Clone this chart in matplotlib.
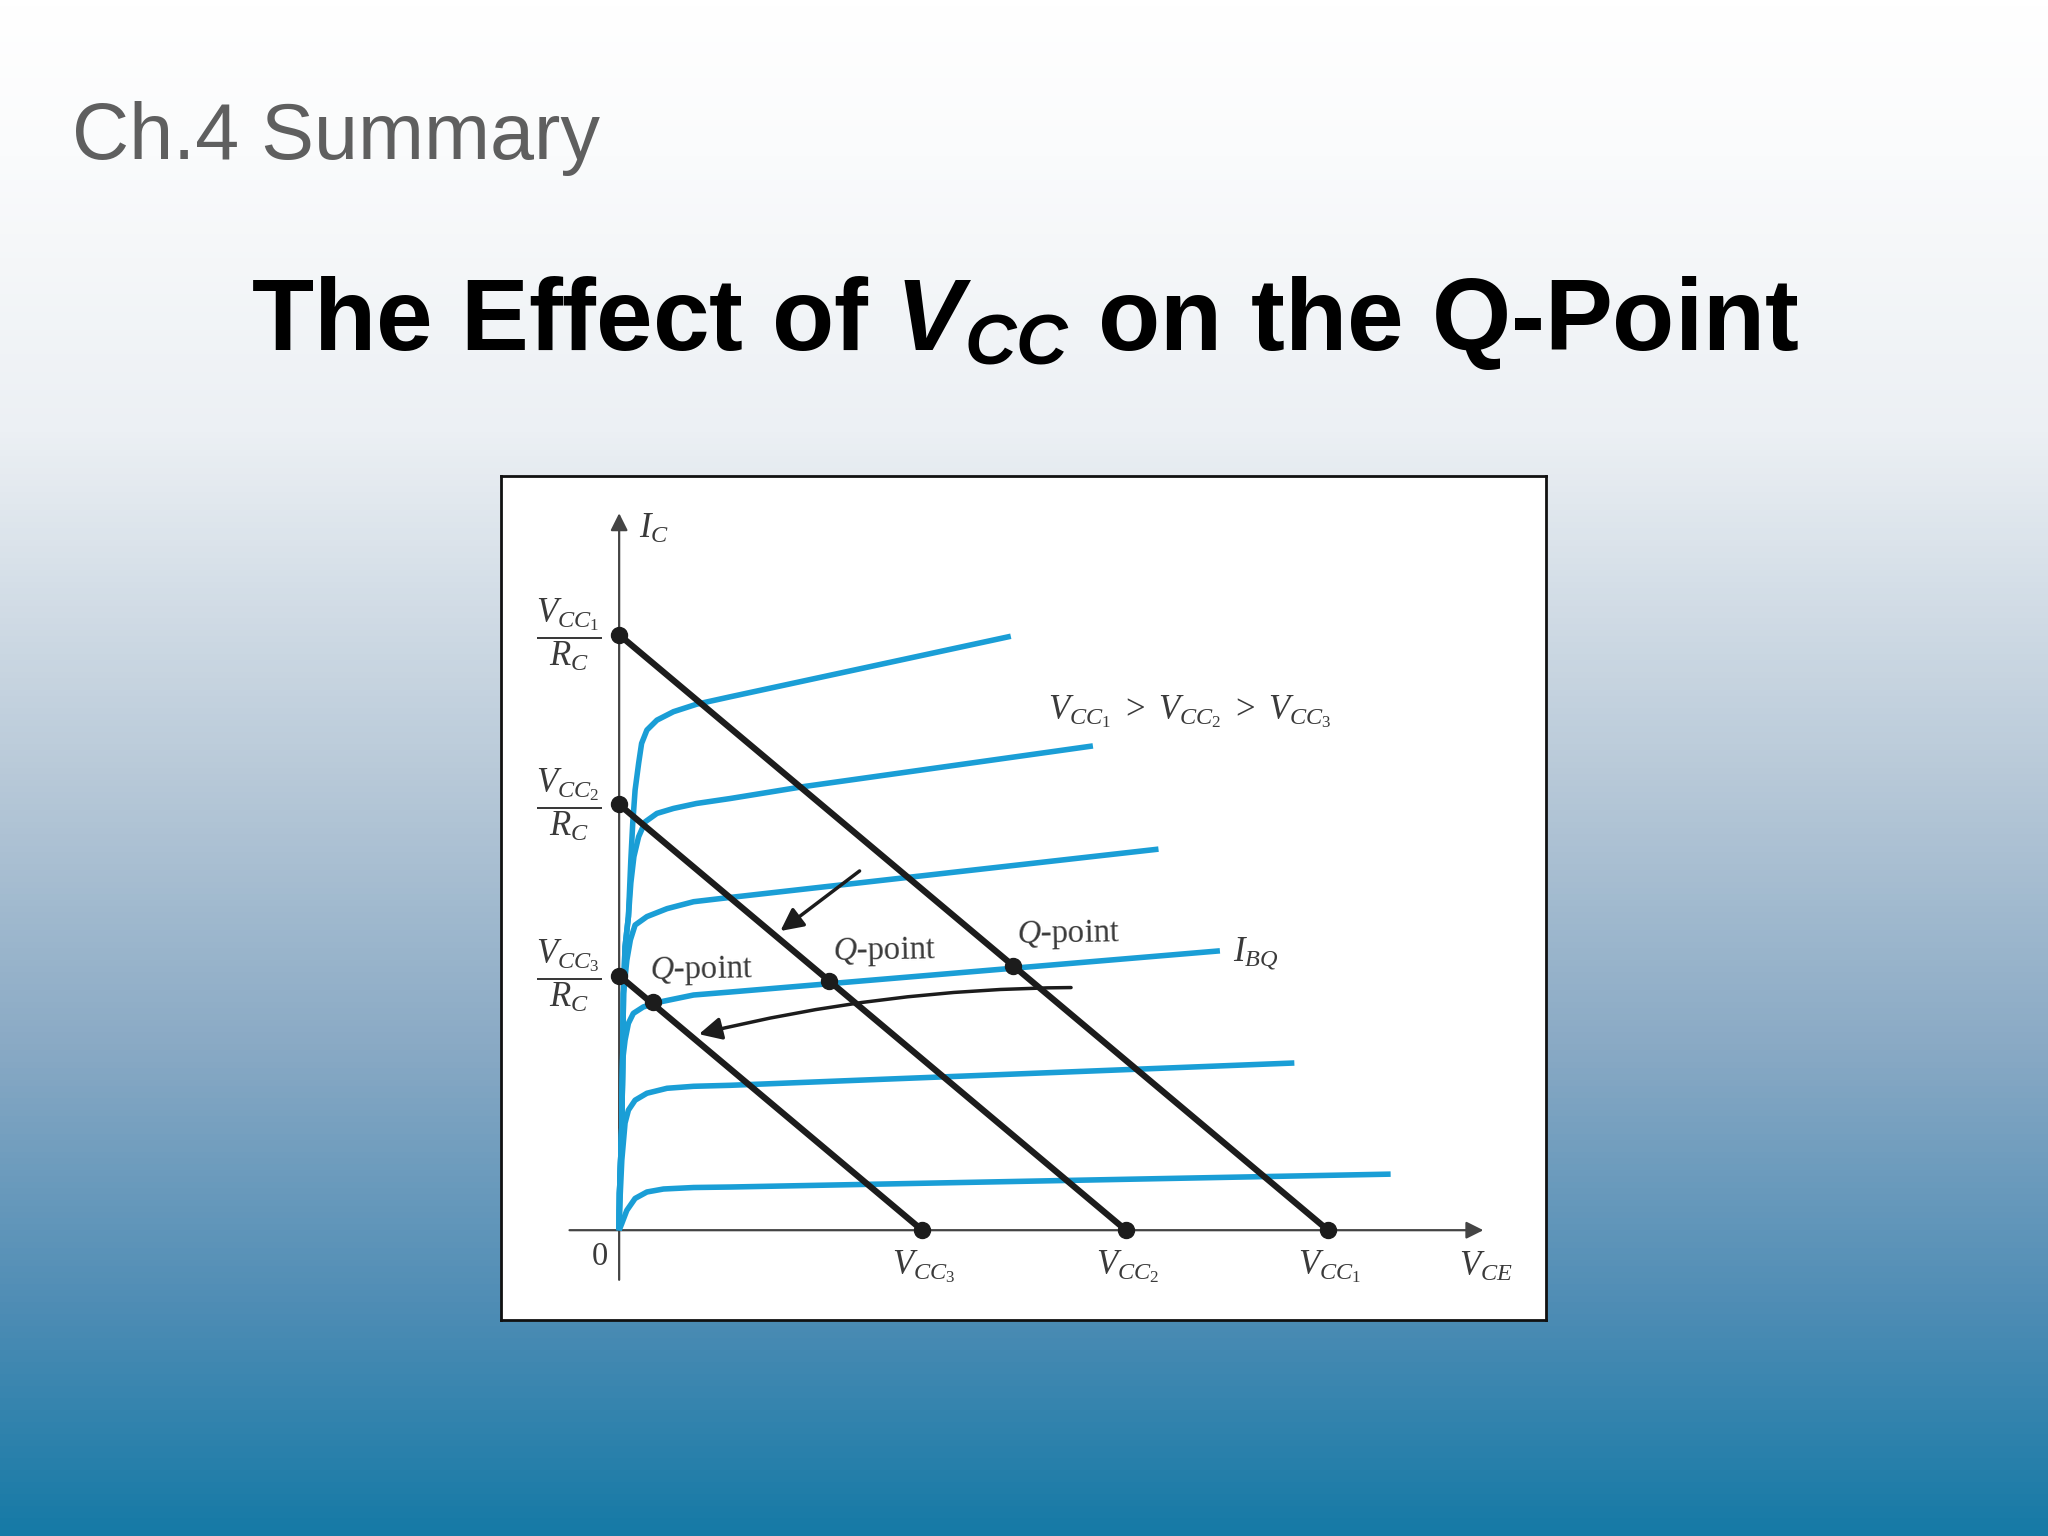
import numpy as np
import matplotlib
matplotlib.use("Agg")
import matplotlib.pyplot as plt
from matplotlib.colors import LinearSegmentedColormap
from matplotlib.patches import FancyArrowPatch

plt.rcParams["mathtext.fontset"] = "custom"
plt.rcParams["mathtext.rm"] = "Liberation Serif"
plt.rcParams["mathtext.it"] = "Liberation Serif:italic"
plt.rcParams["mathtext.bf"] = "Liberation Sans:bold"
plt.rcParams["mathtext.bfit"] = "Liberation Sans:bold:italic"

# supply voltages, load lines run from (VCC, 0) to (0, VCC / RC)
vcc_values = [12.0, 8.58, 5.13]
vcc_names = ["1", "2", "3"]

# collector curves, one per base current
curve_v = [
    [0, 0.006, 0.045, 0.06, 0.073, 0.10, 0.157, 0.198, 0.23, 0.27, 0.33, 0.38, 0.47, 0.64, 0.92, 1.31, 1.88, 6.63],
    [0, 0.006, 0.045, 0.06, 0.073, 0.10, 0.157, 0.198, 0.25, 0.33, 0.44, 0.64, 0.92, 1.31, 1.88, 3.12, 8.02],
    [0, 0.006, 0.045, 0.06, 0.073, 0.13, 0.19, 0.27, 0.47, 0.81, 1.26, 1.76, 9.13],
    [0, 0.006, 0.045, 0.06, 0.10, 0.157, 0.24, 0.41, 0.69, 1.26, 1.88, 10.17],
    [0, 0.006, 0.045, 0.10, 0.157, 0.27, 0.47, 0.81, 1.26, 1.88, 11.43],
    [0, 0.045, 0.13, 0.27, 0.47, 0.75, 1.26, 1.88, 13.06],
]
curve_i = [
    [0, 0.74, 2.08, 3.43, 4.77, 5.71, 6.32, 7.46, 8.2, 8.87, 9.41, 9.81, 10.08, 10.28, 10.45, 10.6, 10.75, 11.97],
    [0, 0.74, 2.08, 3.43, 4.77, 5.71, 6.32, 7.0, 7.53, 7.93, 8.23, 8.4, 8.5, 8.6, 8.7, 8.94, 9.76],
    [0, 0.74, 2.08, 3.43, 4.77, 5.44, 5.85, 6.15, 6.32, 6.48, 6.62, 6.69, 7.68],
    [0, 0.74, 2.08, 3.43, 3.83, 4.17, 4.37, 4.5, 4.6, 4.74, 4.8, 5.63],
    [0, 0.4, 1.41, 2.16, 2.42, 2.62, 2.76, 2.86, 2.9, 2.92, 3.37],
    [0, 0.135, 0.40, 0.64, 0.77, 0.83, 0.86, 0.87, 1.13],
]

q_v = [6.67, 3.56, 0.57]
q_i = [5.32, 5.03, 4.60]

# background gradient, fraction from top of the slide and colour
grad_pos = [0.0, 0.10, 0.28, 0.50, 0.68, 0.85, 1.0]
grad_col = ["#ffffff", "#fafbfc", "#ecf0f4", "#b9cad9", "#8aaac5", "#4f8db5", "#167aa6"]

blue = "#1a9ed6"
dark = "#1c1c1c"
label_col = "#3a3a3a"

fig = plt.figure(figsize=(20.48, 15.36), dpi=100)

bg = fig.add_axes([0, 0, 1, 1])
cmap = LinearSegmentedColormap.from_list("slide", list(zip(grad_pos, grad_col)))
bg.imshow(np.linspace(0, 1, 768).reshape(-1, 1), cmap=cmap, aspect="auto")
bg.axis("off")

fig.text(0.0352, 0.8965, "Ch.4 Summary", family="Liberation Sans", fontsize=57,
         color="#5f5f5f", va="baseline")
fig.text(0.5003, 0.772, r"The Effect of $\mathbfit{V}_{\mathbfit{CC}}$ on the Q-Point",
         family="Liberation Sans", weight="bold", fontsize=73.3, color="black",
         ha="center", va="baseline")

ax = fig.add_axes([501 / 2048, 1 - 1320 / 1536, 1045 / 2048, 844 / 1536])
ax.set_xlim(-2.0, 15.69)
ax.set_ylim(-1.81, 15.2)
ax.set_xticks([])
ax.set_yticks([])
for s in ax.spines.values():
    s.set_linewidth(2.0)
    s.set_color("#111111")

# axes with arrow heads
for start, end in [((-0.84, 0), (14.63, 0)), ((0, -1.0), (0, 14.45))]:
    ax.add_patch(FancyArrowPatch(start, end, arrowstyle="-|>", mutation_scale=26,
                                 lw=1.6, color="#444444", shrinkA=0, shrinkB=0, zorder=1))

for v, i in zip(curve_v, curve_i):
    ax.plot(v, i, color=blue, lw=4, solid_capstyle="butt", solid_joinstyle="round", zorder=2)

for vcc, name in zip(vcc_values, vcc_names):
    ax.plot([0, vcc], [vcc, 0], color=dark, lw=4.5, solid_capstyle="round", zorder=3)
    ax.plot([0, vcc], [vcc, 0], "o", color=dark, ms=11.5, zorder=4)
    ax.text(-0.86, vcc, rf"$\dfrac{{V_{{CC_{{\mathrm{{{name}}}}}}}}}{{R_C}}$", fontsize=25,
            color=label_col, ha="center", va="center", family="Liberation Serif")
    ax.text(vcc + 0.03, -0.74, rf"$V_{{CC_{{\mathrm{{{name}}}}}}}$", fontsize=25,
            color=label_col, ha="center", va="center", family="Liberation Serif")

ax.plot(q_v, q_i, "o", color=dark, ms=11.5, zorder=4)
for x, y in [(1.39, 5.24), (4.49, 5.61), (7.6, 5.96)]:
    ax.text(x, y, "$Q$-point", fontsize=23.5, color=label_col, ha="center", va="center",
            family="Liberation Serif", rotation=1)

ax.text(0.33, 14.13, "$I_C$", fontsize=25, color=label_col, va="center", family="Liberation Serif")
ax.text(-0.33, -0.53, "0", fontsize=23.5, color=label_col, ha="center", va="center", family="Liberation Serif")
ax.text(14.67, -0.74, "$V_{CE}$", fontsize=25, color=label_col, ha="center", va="center", family="Liberation Serif")
ax.text(10.78, 5.58, "$I_{BQ}$", fontsize=25, color=label_col, ha="center", va="center", family="Liberation Serif")
ax.text(9.66, 10.45, r"$V_{CC_{\mathrm{1}}}\ >\ V_{CC_{\mathrm{2}}}\ >\ V_{CC_{\mathrm{3}}}$", fontsize=25,
        color=label_col, ha="center", va="center", family="Liberation Serif")

# shift arrows
ax.add_patch(FancyArrowPatch((4.07, 7.24), (2.73, 6.03), arrowstyle="-|>", mutation_scale=34,
                             lw=2.5, color=dark, shrinkA=0, shrinkB=0, zorder=5))
ax.add_patch(FancyArrowPatch((7.65, 4.89), (1.35, 3.95), arrowstyle="-|>", mutation_scale=34,
                             lw=2.5, color=dark, shrinkA=0, shrinkB=0, zorder=5,
                             connectionstyle="arc3,rad=0.06"))

fig.savefig("out.png", dpi=100)
plt.close(fig)
